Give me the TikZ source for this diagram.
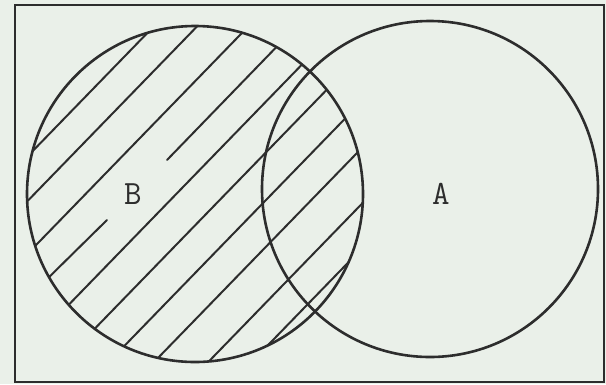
\documentclass[tikz,border=0pt]{standalone}
\usepackage{fontspec}
\definecolor{bg}{RGB}{234,240,233}
\definecolor{ink}{RGB}{45,45,45}
\tikzset{
  frame/.style={draw=ink, line width=2pt},
  ring/.style={draw=ink, line width=2.6pt},
  hatch/.style={draw=ink, line width=2pt, line cap=round},
  setlabel/.style={font=\ttfamily\fontsize{34}{36}\selectfont, text=ink, inner sep=0pt}
}
\begin{document}
\begin{tikzpicture}[x=1pt,y=-1pt]
\useasboundingbox (0,0) rectangle (606,384);
\fill[bg] (0,0) rectangle (606,384);
\draw[frame] (15,5) rectangle (604,382);
% hatching of B
\begin{scope}
  \clip (195,194) circle (168);
  \foreach \c in {182,226,278,370,420,467,513,568,612}
    \draw[hatch] ({\c/2-300},{\c/2+309}) -- ({\c/2+300},{\c/2-309});
  \draw[hatch] (40,286) -- (107,220);
  \draw[hatch] (167,160) -- (290,33);
\end{scope}
\draw[ring] (195,194) circle (168);
\draw[ring] (430,189) circle (168);
\node[setlabel] (B) at (133,194) {B};
\node[setlabel] (A) at (441,194) {A};
\end{tikzpicture}
\end{document}
